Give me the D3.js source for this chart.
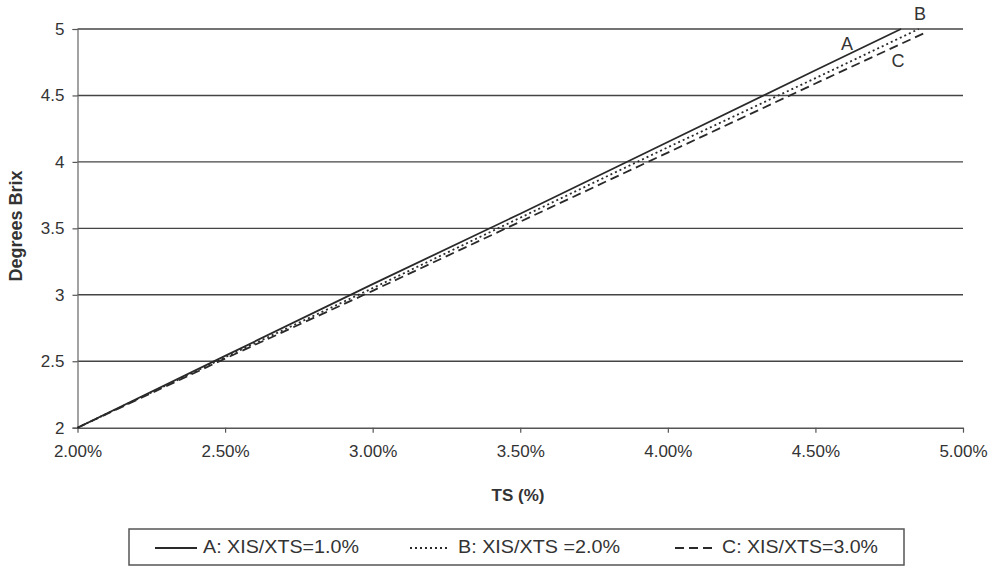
<!DOCTYPE html>
<html>
<head>
<meta charset="utf-8">
<script src="https://cdn.jsdelivr.net/npm/d3@7"></script>
<style>
  body { margin: 0; background: #fff; }
  svg { display: block; font-family: "Liberation Sans", Arial, sans-serif; }
</style>
</head>
<body>
<svg id="chart" width="992" height="566"></svg>
<script>
// ---- data ----
const seriesNames = ["A: XIS/XTS=1.0%", "B: XIS/XTS =2.0%", "C: XIS/XTS=3.0%"];
const seriesLabels = ["A", "B", "C"];
const tsA = [2.0, 2.5, 3.0, 3.5, 4.0, 4.5, 4.79];
const brixA = [2.0, 2.54, 3.08, 3.61, 4.15, 4.69, 5.0];
const tsB = [2.0, 2.5, 3.0, 3.5, 4.0, 4.5, 4.85];
const brixB = [2.0, 2.53, 3.05, 3.58, 4.11, 4.63, 5.0];
const tsC = [2.0, 2.5, 3.0, 3.5, 4.0, 4.5, 4.87];
const brixC = [2.0, 2.52, 3.03, 3.55, 4.07, 4.59, 4.97];
const xTicks = [2.0, 2.5, 3.0, 3.5, 4.0, 4.5, 5.0];
const yTicks = [2, 2.5, 3, 3.5, 4, 4.5, 5];

const svg = d3.select("#chart");
const plotL = 77.5, plotR = 963, plotT = 29, plotB = 427.7;
const x = d3.scaleLinear().domain([2, 5]).range([plotL, plotR]);
const y = d3.scaleLinear().domain([2, 5]).range([plotB, plotT]);

const ink = "#2a2a2a";

// gridlines
svg.append("g").selectAll("line").data(yTicks.filter(v => v > 2)).join("line")
  .attr("x1", plotL).attr("x2", plotR)
  .attr("y1", d => y(d)).attr("y2", d => y(d))
  .attr("stroke", "#444").attr("stroke-width", 1.4);

// y axis
const yAxis = svg.append("g").attr("transform", `translate(${plotL},0)`)
  .call(d3.axisLeft(y).tickValues(yTicks).tickFormat(d3.format("")).tickSize(5).tickPadding(8));
yAxis.select(".domain").attr("stroke", "#666").attr("stroke-width", 1.2);
yAxis.selectAll(".tick line").attr("stroke", "#555").attr("stroke-width", 1.2);
yAxis.selectAll("text").attr("font-size", 17).attr("fill", "#333")
  .attr("font-family", "Liberation Sans, Arial, sans-serif");

// x axis
const xAxis = svg.append("g").attr("transform", `translate(0,${plotB})`)
  .call(d3.axisBottom(x).tickValues(xTicks).tickFormat(d => d.toFixed(2) + "%").tickSizeInner(5).tickSizeOuter(0).tickPadding(12));
xAxis.select(".domain").attr("stroke", "#555").attr("stroke-width", 1.6);
xAxis.selectAll(".tick line").attr("stroke", "#555").attr("stroke-width", 1.2);
xAxis.selectAll("text").attr("font-size", 17).attr("fill", "#333")
  .attr("font-family", "Liberation Sans, Arial, sans-serif");

// series
const series = [
  { ts: tsA, bx: brixA, dash: null, w: 1.8 },
  { ts: tsB, bx: brixB, dash: "2,3", w: 1.8 },
  { ts: tsC, bx: brixC, dash: "9,5", w: 1.8 }
];
const line = d3.line().x(d => x(d[0])).y(d => y(d[1]));
series.forEach(s => {
  svg.append("path")
    .datum(s.ts.map((t, i) => [t, s.bx[i]]))
    .attr("d", line)
    .attr("fill", "none")
    .attr("stroke", ink)
    .attr("stroke-width", s.w)
    .attr("stroke-dasharray", s.dash);
});

// series labels (positions in data units)
const labelPos = [[4.607, 4.88], [4.854, 5.10], [4.78, 4.75]];
svg.append("g").selectAll("text").data(seriesLabels).join("text")
  .attr("x", (d, i) => x(labelPos[i][0]))
  .attr("y", (d, i) => y(labelPos[i][1]))
  .attr("font-size", 18).attr("fill", "#333")
  .attr("text-anchor", "middle")
  .attr("dominant-baseline", "middle")
  .text(d => d);

// axis titles
svg.append("text").attr("x", 518).attr("y", 497)
  .attr("text-anchor", "middle").attr("dominant-baseline", "middle")
  .attr("font-size", 17).attr("font-weight", "bold").attr("fill", "#333")
  .text("TS (%)");
svg.append("text")
  .attr("transform", "translate(17,226) rotate(-90)")
  .attr("text-anchor", "middle").attr("dominant-baseline", "middle")
  .attr("font-size", 18).attr("font-weight", "bold").attr("fill", "#333")
  .text("Degrees Brix");

// legend
const lg = svg.append("g");
lg.append("rect").attr("x", 129).attr("y", 529).attr("width", 775).attr("height", 36)
  .attr("fill", "#fff").attr("stroke", "#555").attr("stroke-width", 1.5);
const legLineX = [155, 410, 675];
const legLineW = [42, 38, 40];
const legTextX = [203, 458, 722];
const legTextW = [156, 162, 156];
const legDash = [null, "2,3", "9,5"];
seriesNames.forEach((name, i) => {
  lg.append("line").attr("x1", legLineX[i]).attr("x2", legLineX[i] + legLineW[i])
    .attr("y1", 548).attr("y2", 548)
    .attr("stroke", ink).attr("stroke-width", 1.8)
    .attr("stroke-dasharray", legDash[i]);
  lg.append("text").attr("x", legTextX[i]).attr("y", 548)
    .attr("dominant-baseline", "middle")
    .attr("font-size", 18).attr("fill", "#333")
    .attr("textLength", legTextW[i]).attr("lengthAdjust", "spacingAndGlyphs")
    .text(name);
});
</script>
</body>
</html>
